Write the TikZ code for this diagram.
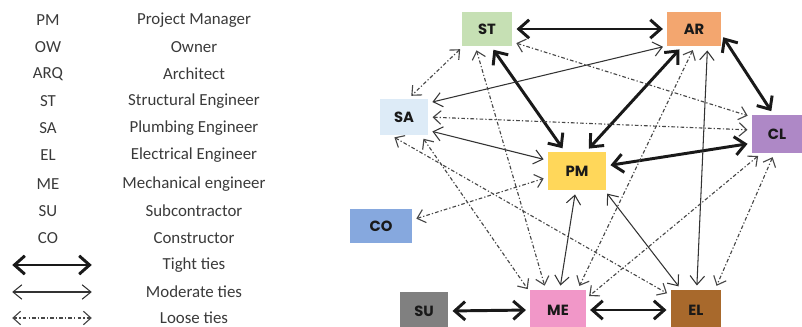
\documentclass[tikz,border=0pt]{standalone}
\usepackage{fontspec}
\setmainfont{Carlito}
\newfontfamily\boxfont{Poppins}
\usepackage{xcolor}
\definecolor{stfill}{HTML}{C6E0B4}
\definecolor{arfill}{HTML}{F3A66F}
\definecolor{safill}{HTML}{DDEBF7}
\definecolor{clfill}{HTML}{AE88C6}
\definecolor{pmfill}{HTML}{FFD75A}
\definecolor{cofill}{HTML}{86A8DE}
\definecolor{sufill}{HTML}{808080}
\definecolor{mefill}{HTML}{F197C8}
\definecolor{elfill}{HTML}{A8692C}
\definecolor{legtext}{HTML}{3A3A3A}
\usetikzlibrary{arrows.meta}

\begin{document}
\begin{tikzpicture}[x=0.025cm, y=-0.025cm,
    every node/.style={font=\fontsize{12}{14}\selectfont, text=legtext},
    actor/.style={font=\boxfont\bfseries\fontsize{10.5}{12}\selectfont,
                  text=black!90, minimum width=1.25cm, minimum height=0.85cm,
                  inner sep=0pt},
    tight/.style={{Straight Barb[length=2.6mm,width=4.6mm]}-{Straight Barb[length=2.6mm,width=4.6mm]},
                  line width=2.1pt, black!90, shorten <=3pt, shorten >=3pt},
    moderate/.style={{Straight Barb[length=2.2mm,width=3.6mm]}-{Straight Barb[length=2.2mm,width=3.6mm]},
                     line width=0.75pt, black!80, shorten <=3pt, shorten >=3pt},
    loose/.style={{Straight Barb[length=1.9mm,width=3.4mm]}-{Straight Barb[length=1.9mm,width=3.4mm]},
                  line width=0.8pt, black!72,
                  dash pattern=on 2.6pt off 1.5pt on 0.9pt off 1.5pt,
                  shorten <=3pt, shorten >=3pt}]
  \useasboundingbox (0,0) rectangle (802,327);
  % legend
  \node (kpm) at (48,20)  {PM};
  \node (kow) at (48,47)  {OW};
  \node (karq) at (48,74) {ARQ};
  \node (kst) at (48,101) {ST};
  \node (ksa) at (48,128) {SA};
  \node (kel) at (48,155) {EL};
  \node (kme) at (48,184) {ME};
  \node (ksu) at (48,211) {SU};
  \node (kco) at (48,238) {CO};
  \node (dpm) at (194,20)  {Project Manager};
  \node (dow) at (194,47)  {Owner};
  \node (darq) at (194,74) {Architect};
  \node (dst) at (194,101) {Structural Engineer};
  \node (dsa) at (194,128) {Plumbing Engineer};
  \node (del) at (194,155) {Electrical Engineer};
  \node (dme) at (194,184) {Mechanical engineer};
  \node (dsu) at (194,211) {Subcontractor};
  \node (dco) at (194,238) {Constructor};
  \node (dtight) at (194,265) {Tight ties};
  \node (dmod) at (194,292)   {Moderate ties};
  \node (dloose) at (194,318) {Loose ties};
  \coordinate (tl) at (8,265);
  \coordinate (tr) at (96,265);
  \coordinate (ml) at (8,292);
  \coordinate (mr) at (96,292);
  \coordinate (ll) at (8,318);
  \coordinate (lr) at (96,318);
  \draw[tight] (tl) -- (tr);
  \draw[moderate] (ml) -- (mr);
  \draw[loose] (ll) -- (lr);
  % actors
  \node[actor, fill=stfill] (st) at (487,29) {ST};
  \node[actor, fill=arfill, minimum width=1.33cm] (ar) at (694,29) {AR};
  \node[actor, fill=safill, minimum width=1.2cm, minimum height=0.9cm] (sa) at (404,117) {SA};
  \node[actor, fill=clfill, minimum height=0.95cm] (cl) at (777,134) {CL};
  \node[actor, fill=pmfill, minimum width=1.45cm, minimum height=0.95cm] (pm) at (577,171) {PM};
  \node[actor, fill=cofill, minimum width=1.55cm] (co) at (381,226) {CO};
  \node[actor, fill=sufill, minimum width=1.2cm, minimum height=0.95cm] (su) at (424,311) {SU};
  \node[actor, fill=mefill, minimum width=1.38cm, minimum height=1cm] (me) at (558,310) {ME};
  \node[actor, fill=elfill, minimum height=1cm] (el) at (696,310) {EL};
  % tight ties
  \draw[tight] (st.east) -- (ar.west);
  \draw[tight] (st.-77) -- (pm.122);
  \draw[tight] (ar.-124) -- (pm.65);
  \draw[tight] (ar.-10) -- (cl.100);
  \draw[tight] (pm.10) -- (cl.-160);
  \draw[tight] (su.east) -- (me.west);
  \draw[tight] (me.east) -- (el.west);
  % moderate ties
  \draw[moderate] (sa.30) -- (ar.-148);
  \draw[moderate] (sa.-29) -- (pm.160);
  \draw[moderate] (pm.-94) -- (me.85);
  \draw[moderate] (pm.-35) -- (el.126);
  \draw[moderate] (ar.-52) -- (el.88);
  % loose ties
  \draw[loose] (st.-144) -- (sa.77);
  \draw[loose] (st.-124) -- (me.121);
  \draw[loose] (st.-27) -- (cl.146);
  \draw[loose] (sa.0) -- (cl.171);
  \draw[loose] (sa.-47) -- (me.148);
  \draw[loose] (sa.-126) -- (el.150);
  \draw[loose] (co.11) -- (pm.-168);
  \draw[loose] (ar.-88) -- (me.46);
  \draw[loose] (cl.-129) -- (me.22);
  \draw[loose] (cl.-98) -- (el.47);
\end{tikzpicture}
\end{document}
